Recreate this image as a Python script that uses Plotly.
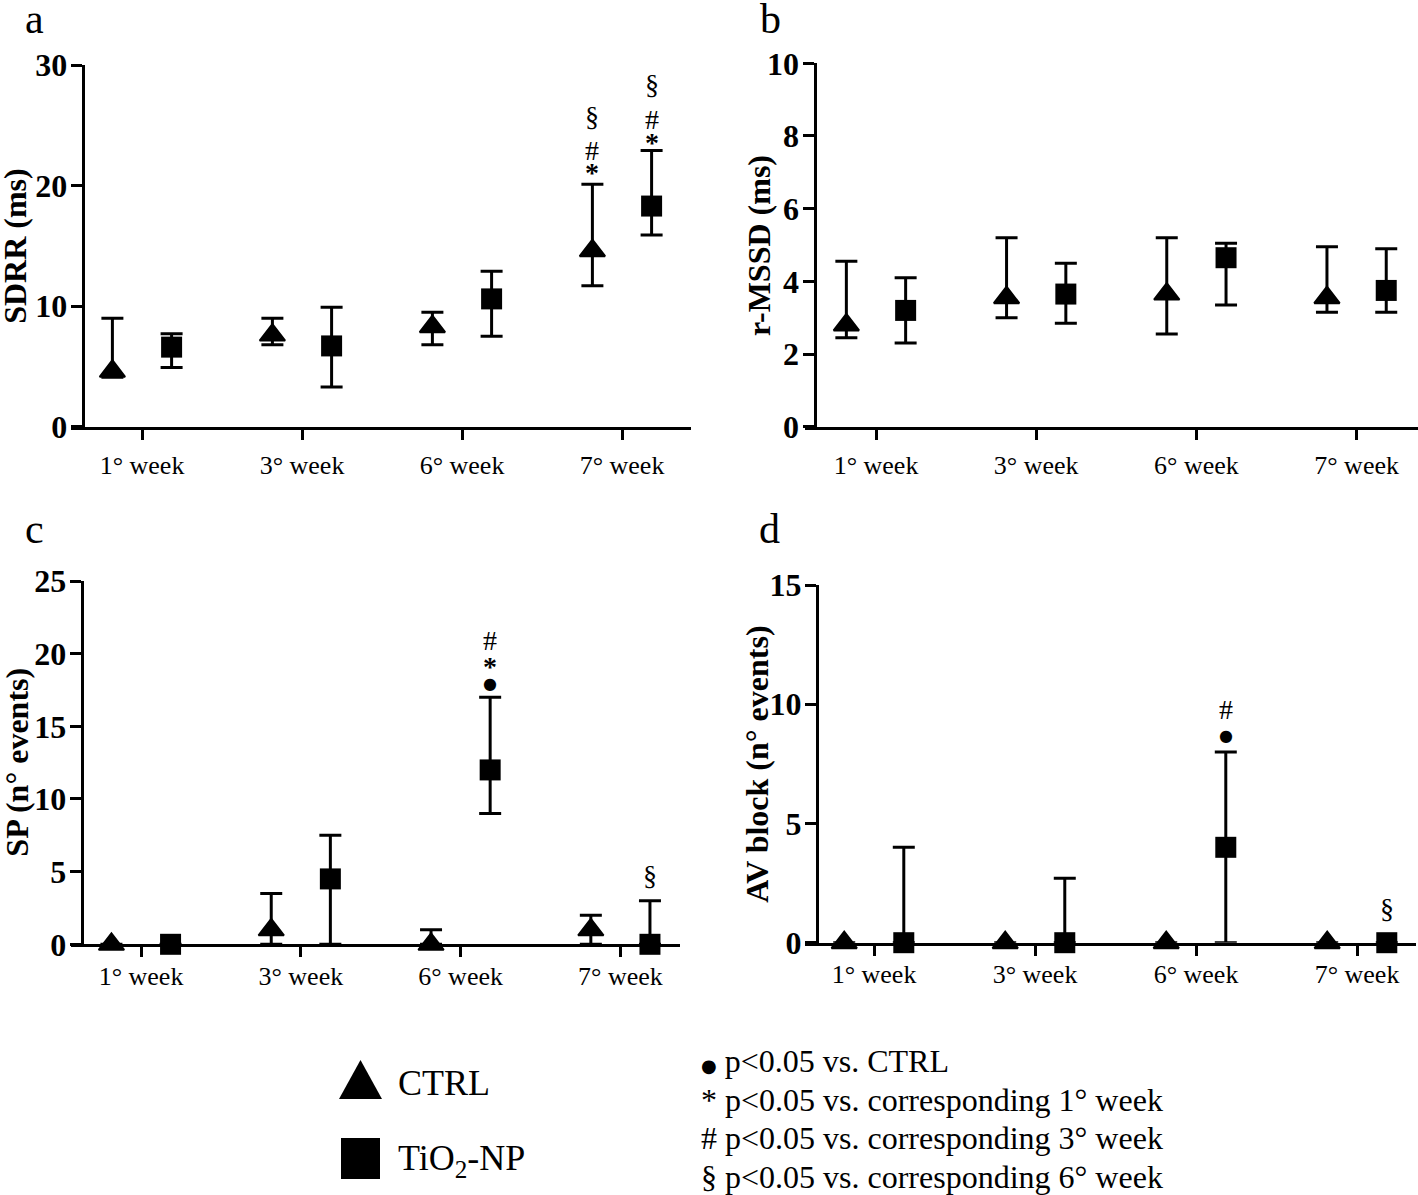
import plotly.graph_objects as go

W, H = 1418, 1195
FONT = "Liberation Serif"

weeks = ["1° week", "3° week", "6° week", "7° week"]

# Panel a: SDRR (ms)
sdrr_ctrl = [4.6, 7.6, 8.3, 14.6]
sdrr_ctrl_hi = [9.0, 9.0, 9.5, 20.1]
sdrr_ctrl_lo = [4.1, 6.8, 6.8, 11.7]
sdrr_tio2 = [6.6, 6.7, 10.6, 18.3]
sdrr_tio2_hi = [7.7, 9.9, 12.9, 22.9]
sdrr_tio2_lo = [4.9, 3.3, 7.5, 15.9]

# Panel b: r-MSSD (ms)
rmssd_ctrl = [2.8, 3.55, 3.65, 3.55]
rmssd_ctrl_hi = [4.55, 5.2, 5.2, 4.95]
rmssd_ctrl_lo = [2.45, 3.0, 2.55, 3.15]
rmssd_tio2 = [3.2, 3.65, 4.65, 3.75]
rmssd_tio2_hi = [4.1, 4.5, 5.05, 4.9]
rmssd_tio2_lo = [2.3, 2.85, 3.35, 3.15]

# Panel c: SP (n° events)
sp_ctrl = [0, 1, 0, 1]
sp_ctrl_hi = [0, 3.5, 1, 2]
sp_ctrl_lo = [0, 0, 0, 0]
sp_tio2 = [0, 4.5, 12, 0]
sp_tio2_hi = [0, 7.5, 17, 3]
sp_tio2_lo = [0, 0, 9, 0]

# Panel d: AV block (n° events)
av_ctrl = [0, 0, 0, 0]
av_ctrl_hi = [0, 0, 0, 0]
av_ctrl_lo = [0, 0, 0, 0]
av_tio2 = [0, 0, 4, 0]
av_tio2_hi = [4, 2.7, 8, 0]
av_tio2_lo = [0, 0, 0, 0]

# significance symbols: (series, week index, symbol, pixel shift above upper whisker)
sig_a = [("ctrl", 3, "*", 12), ("ctrl", 3, "#", 34), ("ctrl", 3, "§", 68),
         ("tio2", 3, "*", 8), ("tio2", 3, "#", 31), ("tio2", 3, "§", 66)]
sig_b = []
sig_c = [("tio2", 2, "●", 14), ("tio2", 2, "*", 31), ("tio2", 2, "#", 57),
         ("tio2", 3, "§", 25)]
sig_d = [("tio2", 2, "●", 16), ("tio2", 2, "#", 42),
         ("tio2", 3, "§", 34)]

DOT = "<span style='font-family:DejaVu Sans;font-size:18px'>●</span>"
legend_notes = [DOT + " p<0.05 vs. CTRL",
                "* p<0.05 vs. corresponding 1° week",
                "# p<0.05 vs. corresponding 3° week",
                "§ p<0.05 vs. corresponding 6° week"]

OFF = 0.185


def px(x):
    return x / W


def py(y):
    return 1 - y / H


panels = [
    dict(letter="a", title="SDRR (ms)", xdom=(71, 691), ypos=82.6, ydom=(426.7, 65),
         tick0=142, step=160, yr=(0, 30), dt=10,
         data=(sdrr_ctrl, sdrr_ctrl_hi, sdrr_ctrl_lo, sdrr_tio2, sdrr_tio2_hi, sdrr_tio2_lo),
         sig=sig_a, lpos=(34, 19), tpos=15, tstand=3),
    dict(letter="b", title="r-MSSD (ms)", xdom=(805, 1418), ypos=814.5, ydom=(426.7, 63.3),
         tick0=876, step=160.2, yr=(0, 10), dt=2,
         data=(rmssd_ctrl, rmssd_ctrl_hi, rmssd_ctrl_lo, rmssd_tio2, rmssd_tio2_hi, rmssd_tio2_lo),
         sig=sig_b, lpos=(770, 19), tpos=759, tstand=3),
    dict(letter="c", title="SP (n° events)", xdom=(71, 680), ypos=81.7, ydom=(944.3, 581),
         tick0=141, step=159.8, yr=(0, 25), dt=5,
         data=(sp_ctrl, sp_ctrl_hi, sp_ctrl_lo, sp_tio2, sp_tio2_hi, sp_tio2_lo),
         sig=sig_c, lpos=(34, 529), tpos=17, tstand=-4),
    dict(letter="d", title="AV block (n° events)", xdom=(805, 1416), ypos=816.8, ydom=(942.7, 585),
         tick0=874, step=161, yr=(0, 15), dt=5,
         data=(av_ctrl, av_ctrl_hi, av_ctrl_lo, av_tio2, av_tio2_hi, av_tio2_lo),
         sig=sig_d, lpos=(769, 529), tpos=757, tstand=-4),
]

fig = go.Figure()
layout = {}

for k, p in enumerate(panels):
    n = "" if k == 0 else str(k + 1)
    xa, ya = "x" + n, "y" + n
    lo = (p["xdom"][0] - p["tick0"]) / p["step"]
    hi = (p["xdom"][1] - p["tick0"]) / p["step"]
    layout["xaxis" + n] = dict(
        domain=[px(p["xdom"][0]), px(p["xdom"][1])], range=[lo, hi], anchor=ya,
        tickvals=list(range(len(weeks))), ticktext=weeks, automargin=False,
        showline=True, linecolor="black", linewidth=3, ticks="outside", ticklen=10,
        tickwidth=3, tickcolor="black", showgrid=False, zeroline=False,
        ticklabelstandoff=p["tstand"],
        tickfont=dict(family=FONT, size=26, color="black"), fixedrange=True)
    layout["yaxis" + n] = dict(
        domain=[py(p["ydom"][0]), py(p["ydom"][1])], range=list(p["yr"]), dtick=p["dt"],
        tick0=0, anchor="free", position=px(p["ypos"]), automargin=False,
        showline=True, linecolor="black", linewidth=3, ticks="outside", ticklen=11,
        tickwidth=3, tickcolor="black", showgrid=False, zeroline=False,
        ticklabelstandoff=-3,
        tickfont=dict(family=FONT, size=32, color="black", weight="bold"),
        fixedrange=True)

    # y-axis title
    fig.add_annotation(x=px(p["tpos"]), y=(py(p["ydom"][0]) + py(p["ydom"][1])) / 2,
                       xref="paper", yref="paper", text=p["title"], textangle=-90,
                       showarrow=False, xanchor="center", yanchor="middle",
                       font=dict(family=FONT, size=32, color="black", weight="bold"))

    c, chi, clo, t, thi, tlo = p["data"]
    xs_c = [i - OFF for i in range(len(weeks))]
    xs_t = [i + OFF for i in range(len(weeks))]
    fig.add_trace(go.Scatter(
        x=xs_c, y=c, mode="markers", xaxis=xa, yaxis=ya, cliponaxis=False, showlegend=False,
        name="CTRL",
        marker=dict(symbol="triangle-up", size=22, color="black", line=dict(width=2, color="black")),
        error_y=dict(type="data", symmetric=False,
                     array=[h - v for h, v in zip(chi, c)],
                     arrayminus=[v - l for v, l in zip(c, clo)],
                     color="black", thickness=3, width=11)))
    fig.add_trace(go.Scatter(
        x=xs_t, y=t, mode="markers", xaxis=xa, yaxis=ya, cliponaxis=False, showlegend=False,
        name="TiO2-NP",
        marker=dict(symbol="square", size=21, color="black"),
        error_y=dict(type="data", symmetric=False,
                     array=[h - v for h, v in zip(thi, t)],
                     arrayminus=[v - l for v, l in zip(t, tlo)],
                     color="black", thickness=3, width=11)))

    for series, i, sym, shift in p["sig"]:
        xv = xs_c[i] if series == "ctrl" else xs_t[i]
        yv = chi[i] if series == "ctrl" else thi[i]
        if sym == "●":
            f = dict(family="DejaVu Sans", size=16, color="black")
        else:
            f = dict(family=FONT, size=28, color="black",
                     weight="bold" if sym == "*" else "normal")
        fig.add_annotation(x=xv, y=yv, xref=xa, yref=ya, text=sym, showarrow=False,
                           yshift=shift, yanchor="middle", xanchor="center", font=f)

    fig.add_annotation(x=px(p["lpos"][0]), y=py(p["lpos"][1]), xref="paper", yref="paper",
                       text=p["letter"], showarrow=False, xanchor="center", yanchor="middle",
                       font=dict(family=FONT, size=42, color="black"))

# legend keys
fig.add_shape(type="path", xref="paper", yref="paper",
              path="M {:.5f},{:.5f} L {:.5f},{:.5f} L {:.5f},{:.5f} Z".format(
                  px(339), py(1099), px(382), py(1099), px(360.5), py(1060)),
              fillcolor="black", line=dict(width=0))
fig.add_shape(type="rect", xref="paper", yref="paper",
              x0=px(341), x1=px(380), y0=py(1179), y1=py(1138),
              fillcolor="black", line=dict(width=0))
fig.add_annotation(x=px(396), y=py(1083), xref="paper", yref="paper", text="CTRL",
                   showarrow=False, xanchor="left", yanchor="middle",
                   font=dict(family=FONT, size=36, color="black"))
fig.add_annotation(x=px(396), y=py(1160), xref="paper", yref="paper", text="TiO<sub>2</sub>-NP",
                   showarrow=False, xanchor="left", yanchor="middle",
                   font=dict(family=FONT, size=36, color="black"))

for j, line in enumerate(legend_notes):
    fig.add_annotation(x=px(699), y=py(1061 + 38.5 * j), xref="paper", yref="paper", text=line,
                       showarrow=False, xanchor="left", yanchor="middle",
                       font=dict(family=FONT, size=32, color="black"))

fig.update_layout(width=W, height=H, margin=dict(l=0, r=0, t=0, b=0, autoexpand=False),
                  template="none",
                  paper_bgcolor="white", plot_bgcolor="white", showlegend=False,
                  font=dict(family=FONT, color="black"), **layout)

fig.write_html("out.html", config={"displayModeBar": False},
               post_script="document.body.style.margin='0px';")
